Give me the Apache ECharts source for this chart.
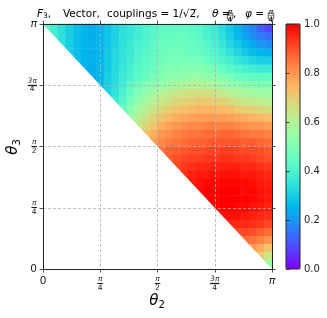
<!DOCTYPE html>
<html><head><meta charset="utf-8">
<script src="https://cdn.jsdelivr.net/npm/echarts@6/dist/echarts.min.js"></script>
<style>html,body{margin:0;padding:0;background:#fff}#c{width:327px;height:318px}</style>
</head><body><div id="c"></div>
<script>
// F3 values (x100). Row r00 is the top row (theta3 near pi); each row starts at the anti-diagonal
// and runs right to theta2 = pi. Cells below the anti-diagonal are empty.
const r00 = [42,38,34,30,27,25,24,25,28,31,34,36,38,40,42,44,44,44,44,43,42,39,37,33,29,25,21,17,13,9];
const r01 = [38,34,30,27,25,24,25,28,31,34,36,38,40,42,45,45,45,45,44,43,40,38,34,30,26,23,19,16,14];
const r02 = [34,30,27,25,24,25,28,31,34,37,39,41,43,46,46,46,46,45,44,42,39,36,32,29,26,23,20,19];
const r03 = [30,27,25,24,25,29,32,35,37,40,42,44,46,47,47,47,46,45,43,41,38,35,32,29,27,25,24];
const r04 = [27,25,24,25,29,32,35,38,41,43,45,47,48,48,48,48,48,46,43,41,39,36,34,32,30,30];
const r05 = [25,24,25,29,33,36,39,42,44,46,49,50,50,51,51,51,50,48,45,43,41,39,38,37,37];
const r06 = [24,25,30,33,37,40,43,46,48,51,52,53,54,55,55,54,53,50,48,46,45,44,44,44];
const r07 = [27,30,34,38,43,47,50,52,54,56,58,59,60,60,60,58,56,54,53,52,51,50,50];
const r08 = [31,35,40,45,50,54,57,60,62,64,65,66,66,66,65,63,61,59,58,57,56,56];
const r09 = [37,42,48,53,57,61,64,66,68,69,70,71,71,70,69,67,65,64,63,62,61];
const r10 = [46,52,57,61,65,68,70,72,73,74,75,75,75,74,73,71,70,69,68,67];
const r11 = [55,61,65,69,72,74,76,77,78,79,79,79,79,78,77,76,75,74,73];
const r12 = [63,68,72,76,78,80,81,82,82,83,83,83,83,82,81,80,80,79];
const r13 = [72,76,80,81,83,84,85,85,86,86,87,87,86,85,84,84,83];
const r14 = [79,82,84,85,86,87,88,88,89,89,89,89,88,88,87,86];
const r15 = [85,87,88,89,90,90,91,91,92,92,91,91,90,90,89];
const r16 = [88,90,91,92,92,93,93,94,94,93,93,92,91,90];
const r17 = [91,93,94,95,95,96,96,96,96,95,95,94,93];
const r18 = [94,96,97,97,98,98,98,98,97,97,96,95];
const r19 = [97,98,99,99,99,99,99,99,98,97,96];
const r20 = [99,100,100,100,100,100,99,99,98,97];
const r21 = [100,100,100,100,100,100,99,98,97];
const r22 = [100,100,100,99,99,98,97,96];
const r23 = [98,98,98,97,96,95,94];
const r24 = [95,95,95,94,93,91];
const r25 = [91,91,90,88,86];
const r26 = [86,85,83,80];
const r27 = [79,76,72];
const r28 = [70,64];
const r29 = [55];

const nCells = 30;
const xTickLabels = ['0','π/4','π/2','3π/4','π'];
const yTickLabels = ['0','π/4','π/2','3π/4','π'];
const cbarTicks = [0, 0.2, 0.4, 0.6, 0.8, 1.0];

const rows = [r00,r01,r02,r03,r04,r05,r06,r07,r08,r09,r10,r11,r12,r13,r14,r15,r16,r17,r18,r19,r20,r21,r22,r23,r24,r25,r26,r27,r28,r29];
const cats = Array.from({length: nCells}, (_, i) => String(i));
const cells = [];
rows.forEach((row, j) => row.forEach((v, k) => cells.push([j + k, nCells - 1 - j, v / 100])));

const rainbow = ['#8000ff','#6628fe','#4d4ffc','#3374f8','#1a96f3','#00b4ec','#1acee3','#33e3da','#4df3ce','#66fcc2','#80ffb4','#99fca6','#b3f396','#cce385','#e6ce74','#ffb462','#ff964f','#ff743b','#ff4f28','#ff2814','#ff0000'];

const FF = 'DejaVu Sans';
const ink = '#222';
function fracRich(barSize) {
  return {
    n: {fontFamily: FF, fontSize: 7.5, fontStyle: 'italic', lineHeight: 6.5, color: ink, align: 'center'},
    b: {fontFamily: FF, fontSize: barSize, lineHeight: 2, color: ink, textBorderColor: ink, textBorderWidth: 0.7, align: 'center'},
    c: {fontFamily: FF, fontSize: 9.5, lineHeight: 2, color: ink, textBorderColor: ink, textBorderWidth: 0.7, align: 'center'},
    d: {fontFamily: FF, fontSize: 7.5, lineHeight: 6.5, color: ink, align: 'center'},
    m: {fontFamily: FF, fontSize: 11, fontStyle: 'italic', color: ink, align: 'center'},
    z: {fontFamily: FF, fontSize: 10.5, color: ink, align: 'center'}
  };
}
function tickFmt(labels) {
  return function (v) {
    const s = labels[Math.round(v)];
    if (s === undefined) return '';
    if (s === '0') return '{z|0}';
    if (s.indexOf('/') < 0) return '{m|' + s + '}';
    const p = s.split('/');
    const bar = p[0].length > 1 ? '{c|\u2014}' : '{b|\u2014}';
    return '{n|' + p[0] + '}\n' + bar + '\n{d|' + p[1] + '}';
  };
}
const richTicks = fracRich(5.5);

const axisLineSt = {show: true, onZero: false, lineStyle: {color: ink, width: 1}};
const axisTickSt = {show: true, inside: false, length: 3.5, lineStyle: {color: ink, width: 0.8}};
const splitSt = {show: true, lineStyle: {color: '#b0b0b0', type: [3, 2], width: 0.8}};
const tsty = (extra) => Object.assign({align: 'left', verticalAlign: 'middle', textAlign: 'left', textVerticalAlign: 'middle', fill: '#000'}, extra);
const mathRich = {
  i: {fontFamily: FF, fontSize: 10.5, fontStyle: 'italic', color: '#000', lineHeight: 12},
  r: {fontFamily: FF, fontSize: 10.5, color: '#000', lineHeight: 12},
  s: {fontFamily: FF, fontSize: 7.5, color: '#000', lineHeight: 8, verticalAlign: 'bottom'}
};

const chart = echarts.init(document.getElementById('c'), null, {renderer: 'canvas'});
chart.setOption({
  animation: false,
  backgroundColor: '#fff',
  grid: [
    {left: 43, top: 24, width: 229, height: 245},
    {left: 43, top: 24, width: 229, height: 245},
    {left: 286, top: 24, width: 14, height: 245, show: true, borderColor: ink, borderWidth: 1, backgroundColor: 'transparent', z: 10}
  ],
  xAxis: [
    {gridIndex: 0, type: 'category', data: cats, show: false},
    {gridIndex: 1, type: 'value', min: 0, max: 4, interval: 1, position: 'bottom', z: 5,
     axisLine: axisLineSt, axisTick: axisTickSt, splitLine: splitSt,
     axisLabel: {margin: 7, formatter: tickFmt(xTickLabels), rich: richTicks, verticalAlign: 'top'}},
    {gridIndex: 1, type: 'value', min: 0, max: 4, interval: 1, position: 'top', z: 5,
     axisLine: axisLineSt, axisTick: axisTickSt, splitLine: {show: false}, axisLabel: {show: false}},
    {gridIndex: 2, type: 'value', min: 0, max: 1, show: false}
  ],
  yAxis: [
    {gridIndex: 0, type: 'category', data: cats, show: false},
    {gridIndex: 1, type: 'value', min: 0, max: 4, interval: 1, position: 'left', z: 5,
     axisLine: axisLineSt, axisTick: axisTickSt, splitLine: splitSt,
     axisLabel: {margin: 6, formatter: tickFmt(yTickLabels), rich: richTicks}},
    {gridIndex: 1, type: 'value', min: 0, max: 4, interval: 1, position: 'right', z: 5,
     axisLine: axisLineSt, axisTick: axisTickSt, splitLine: {show: false}, axisLabel: {show: false}},
    {gridIndex: 2, type: 'value', min: 0, max: 1, interval: 0.2, position: 'right', z: 11,
     axisLine: {show: false}, axisTick: axisTickSt, splitLine: {show: false},
     axisLabel: {margin: 4, fontFamily: FF, fontSize: 10, color: ink,
       formatter: v => (cbarTicks.some(t => Math.abs(t - v) < 1e-6) ? v.toFixed(1) : '')}}
  ],
  visualMap: {
    type: 'continuous', min: 0, max: 1, seriesIndex: 0, dimension: 2,
    inRange: {color: rainbow}, left: 286, top: 24, itemWidth: 14, itemHeight: 245,
    calculable: false, hoverLink: false, padding: 0, text: null, showLabel: false, orient: 'vertical'
  },
  series: [{
    type: 'heatmap', xAxisIndex: 0, yAxisIndex: 0, data: cells,
    emphasis: {disabled: true}, progressive: 0, silent: true
  }],
  graphic: [
    {id: 't1', type: 'text', x: 37, y: 14, silent: true, style: tsty({text: '{i|F}{s|3}{r|,}', rich: mathRich})},
    {id: 't2', type: 'text', x: 63, y: 14, silent: true, style: tsty({text: 'Vector,', font: '10.5px "DejaVu Sans"'})},
    {id: 't3', type: 'text', x: 107, y: 14, silent: true, style: tsty({text: 'couplings = 1/√2\u0305,', font: '10.5px "DejaVu Sans"'})},
    {id: 't4', type: 'text', x: 212, y: 14, silent: true, style: tsty({text: '{i|θ}{r| =}', rich: mathRich})},
    {id: 't5', type: 'text', x: 230, y: 16, silent: true, style: {
      text: '{n|π}\n{b|\u2014}\n{d|4}', align: 'center', verticalAlign: 'middle', textAlign: 'center', textVerticalAlign: 'middle', rich: fracRich(5.5)}},
    {id: 't6', type: 'text', x: 233, y: 14, silent: true, style: tsty({text: ',', font: '10.5px "DejaVu Sans"'})},
    {id: 't7', type: 'text', x: 245, y: 14, silent: true, style: tsty({text: '{i|φ}{r| =}', rich: mathRich})},
    {id: 't8', type: 'text', x: 271, y: 16, silent: true, style: {
      text: '{n|π}\n{b|\u2014}\n{d|4}', align: 'center', verticalAlign: 'middle', textAlign: 'center', textVerticalAlign: 'middle', rich: fracRich(5.5)}},
    {id: 'ax', type: 'text', x: 157, y: 301, silent: true, style: {
      text: '{i|θ}{s|2}', align: 'center', verticalAlign: 'middle', textAlign: 'center', textVerticalAlign: 'middle',
      rich: {i: {fontFamily: FF, fontSize: 15, fontStyle: 'italic', color: '#000', lineHeight: 18},
             s: {fontFamily: FF, fontSize: 10, color: '#000', lineHeight: 10, verticalAlign: 'bottom'}}}},
    {id: 'ay', type: 'text', x: 13, y: 147, rotation: Math.PI / 2, silent: true, style: {
      text: '{i|θ}{s|3}', align: 'center', verticalAlign: 'middle', textAlign: 'center', textVerticalAlign: 'middle',
      rich: {i: {fontFamily: FF, fontSize: 15, fontStyle: 'italic', color: '#000', lineHeight: 18},
             s: {fontFamily: FF, fontSize: 10, color: '#000', lineHeight: 10, verticalAlign: 'bottom'}}}}
  ]
});
// Mask the region theta2 + theta3 < pi (outside the domain) along the exact anti-diagonal.
const pA = chart.convertToPixel({xAxisIndex: 1, yAxisIndex: 1}, [0, 0]);
const pB = chart.convertToPixel({xAxisIndex: 1, yAxisIndex: 1}, [0, 4]);
const pC = chart.convertToPixel({xAxisIndex: 1, yAxisIndex: 1}, [4, 0]);
chart.setOption({graphic: [{id: 'mask', type: 'polygon', z: 3, silent: true,
  shape: {points: [pA, pB, pC]}, style: {fill: '#fff'}}]});
</script></body></html>
